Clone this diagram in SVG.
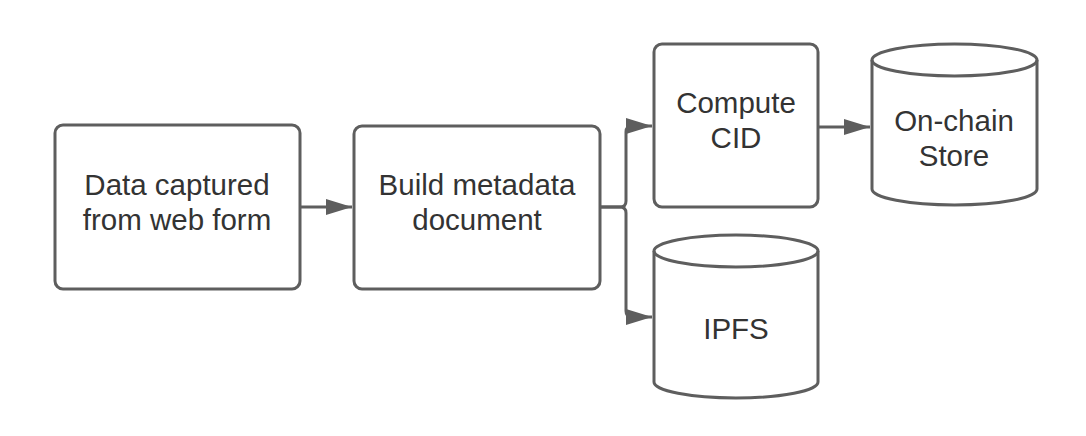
<svg xmlns="http://www.w3.org/2000/svg" width="1086" height="436" viewBox="0 0 1086 436">
<defs>
<style>
.box{fill:#fff;stroke:#5e5e5e;stroke-width:3}
.ln{fill:none;stroke:#5e5e5e;stroke-width:3}
.t{font-family:"Liberation Sans",Arial,sans-serif;font-size:29.5px;fill:#333;text-anchor:middle}
</style>
<marker id="ah2" markerWidth="26" markerHeight="16" refX="26" refY="8" orient="auto" markerUnits="userSpaceOnUse" viewBox="0 0 26 16">
<path d="M0,0 L26,8 L0,16 Z" fill="#5e5e5e"/>
</marker>
</defs>
<rect width="1086" height="436" fill="#fff"/>
<g id="connectors">
<path class="ln" d="M300,207 H352" marker-end="url(#ah2)"/>
<path class="ln" d="M600,207 H620 Q626,207 626,201 V132 Q626,126 632,126 H652" marker-end="url(#ah2)"/>
<path class="ln" d="M600,207 H620 Q626,207 626,213 V311 Q626,317 632,317 H652" marker-end="url(#ah2)"/>
<path class="ln" d="M818,127 H870" marker-end="url(#ah2)"/>
</g>
<g id="node-data">
<rect class="box" x="55" y="125" width="245" height="164" rx="8"/>
<text class="t" x="177" y="195">Data captured</text>
<text class="t" x="177" y="230">from web form</text>
</g>
<g id="node-build">
<rect class="box" x="354" y="126" width="246" height="163" rx="8"/>
<text class="t" x="477" y="195">Build metadata</text>
<text class="t" x="477" y="230">document</text>
</g>
<g id="node-compute">
<rect class="box" x="654" y="44" width="164" height="163" rx="8"/>
<text class="t" x="736" y="113">Compute</text>
<text class="t" x="736" y="148">CID</text>
</g>
<g id="node-onchain">
<path class="box" d="M872,60 V189 A82.5,16 0 0 0 1037,189 V60 A82.5,16 0 0 0 872,60 Z"/>
<path class="ln" d="M872,60 A82.5,16 0 0 0 1037,60"/>
<text class="t" x="954" y="131">On-chain</text>
<text class="t" x="954" y="166">Store</text>
</g>
<g id="node-ipfs">
<path class="box" d="M654,251 V382 A82,16 0 0 0 818,382 V251 A82,16 0 0 0 654,251 Z"/>
<path class="ln" d="M654,251 A82,16 0 0 0 818,251"/>
<text class="t" x="736" y="339">IPFS</text>
</g>
</svg>
